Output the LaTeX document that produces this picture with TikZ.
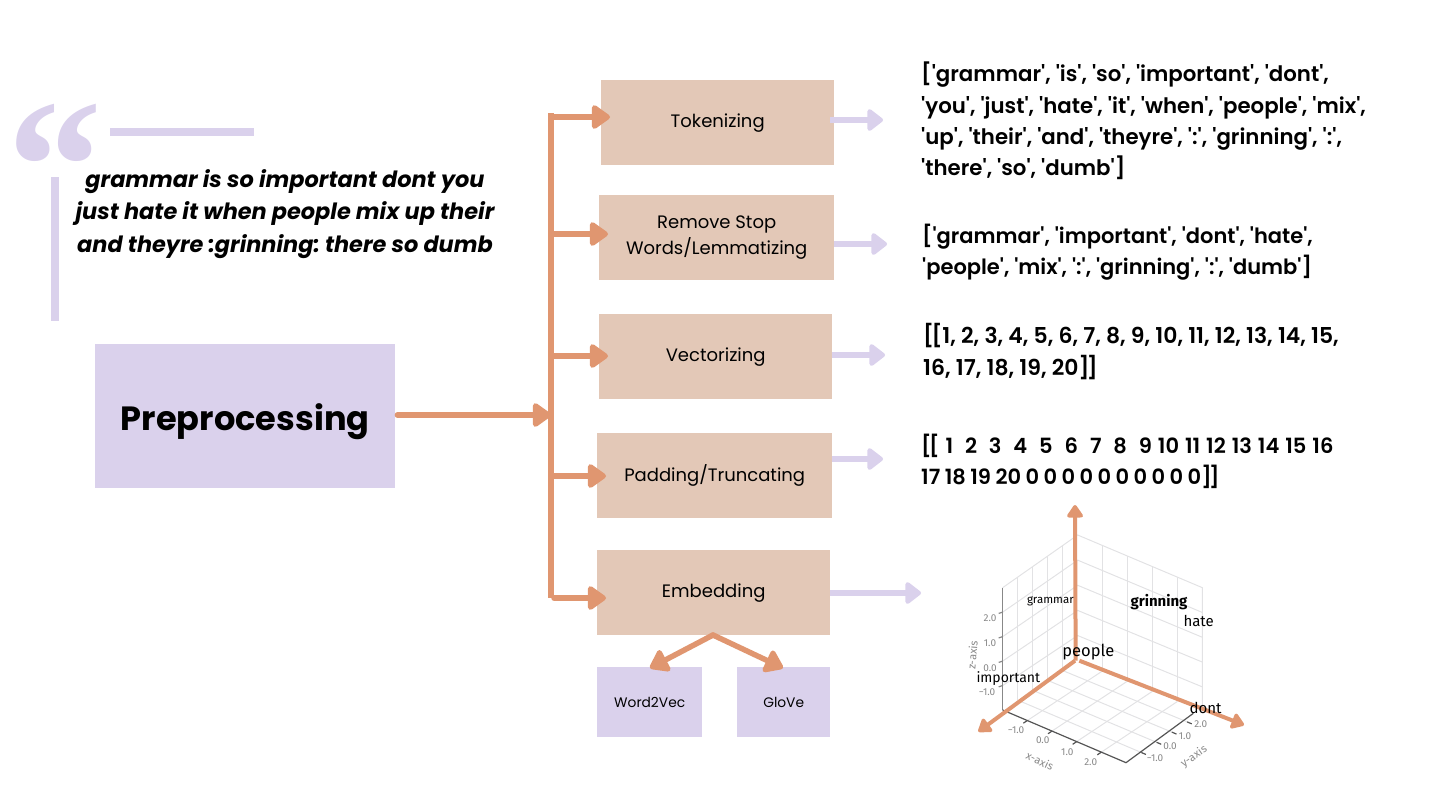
\documentclass[tikz,border=0pt]{standalone}
\usepackage{fontspec}
\usetikzlibrary{arrows.meta,calc}
\setmainfont{Poppins}
\newfontfamily\dm{Poppins}
\newfontfamily\dms{Poppins SemiBold}
\newfontfamily\plex{Fira Sans}
\newfontfamily\qmark{Liberation Serif}
\definecolor{lilac}{HTML}{DAD1EC}
\definecolor{peach}{HTML}{E3C8B7}
\definecolor{orng}{HTML}{E09670}
\definecolor{gridc}{HTML}{E2E2E4}
\definecolor{axisc}{HTML}{555555}
\definecolor{tickc}{HTML}{888888}
\tikzset{
  peachbox/.style={fill=peach,anchor=north west,inner sep=0pt,minimum height=85pt,align=center,font=\dm\fontsize{18}{26}\selectfont},
  lilacbox/.style={fill=lilac,anchor=north west,inner sep=0pt,align=center},
  bar/.style={fill=lilac},
  orngline/.style={draw=orng,line width=5.5pt,line cap=round},
  orngarrow/.style={orngline,-{Triangle[length=20pt,width=27pt,round]}},
  lilacarrow/.style={draw=lilac,line width=5.5pt,-{Triangle[length=17pt,width=25pt,round]}},
  outtext/.style={anchor=north west,inner sep=0pt,align=left,font=\frenchspacing\dms\fontsize{21}{31.3}\selectfont},
  plotarrow/.style={draw=orng,line width=4pt,-{Triangle[length=14pt,width=18pt,round]}},
  gridline/.style={draw=gridc,line width=1pt},
  axisline/.style={draw=axisc,line width=1.2pt},
  ticklabel/.style={text=tickc,font=\plex\fontsize{10}{10}\selectfont,inner sep=0pt},
  axislabel/.style={text=tickc,font=\plex\fontsize{11}{11}\selectfont,inner sep=0pt},
  wordlabel/.style={text=black,inner sep=0pt,font=\plex\fontsize{14}{14}\selectfont},
}
\begin{document}
\begin{tikzpicture}[x=1pt,y=-1pt]
\useasboundingbox (0,0) rectangle (1440,809);
% quote decoration
\node[text=lilac,inner sep=0pt,font=\qmark\bfseries\fontsize{190}{190}\selectfont] (quote) at (55,167) {“};
\fill[bar] (110,128) rectangle (254,136);
\fill[bar] (51,177) rectangle (59,321);
\node[inner sep=0pt,align=center,font=\frenchspacing\dm\bfseries\itshape\fontsize{22.4}{32.5}\selectfont] (saying) at (285,214)
  {grammar is so important dont you\\just hate it when people mix up their\\and theyre :grinning: there so dumb};
% main boxes
\node[lilacbox,minimum width=300pt,minimum height=144pt,font=\dm\bfseries\fontsize{33.6}{38}\selectfont,text depth=2pt] (prep) at (95,344) {\raisebox{-3pt}{Preprocessing}};
\node[peachbox,minimum width=233pt] (tok) at (601,80) {\raisebox{-2pt}{Tokenizing}};
\node[peachbox,minimum width=235pt] (stop) at (599,195) {\raisebox{-2pt}{Remove Stop}\\\raisebox{-2pt}{Words/Lemmatizing}};
\node[peachbox,minimum width=233pt] (vec) at (599,314) {\raisebox{-1pt}{Vectorizing}};
\node[peachbox,minimum width=235pt] (pad) at (597,433) {Padding/Truncating};
\node[peachbox,minimum width=233pt] (emb) at (597,550) {\raisebox{-1pt}{Embedding}};
\node[lilacbox,minimum width=105pt,minimum height=70pt,font=\dm\fontsize{13.8}{16}\selectfont] (w2v) at (597,667) {Word2Vec};
\node[lilacbox,minimum width=93pt,minimum height=70pt,font=\dm\fontsize{13.8}{16}\selectfont] (glove) at (737,667) {GloVe};
% output text
\node[outtext,font=\frenchspacing\dms\fontsize{21.3}{31.3}\selectfont] (o1) at (921,62) {['grammar', 'is', 'so', 'important', 'dont',\\'you', 'just', 'hate', 'it', 'when', 'people', 'mix',\\'up', 'their', 'and', 'theyre', ':', 'grinning', ':',\\'there', 'so', 'dumb']};
\node[outtext] (o2) at (922,224) {['grammar', 'important', 'dont', 'hate',\\'people', 'mix', ':', 'grinning', ':', 'dumb']};
\node[outtext,font=\frenchspacing\dms\fontsize{21.9}{31.6}\selectfont] (o3) at (923,323.5) {[\kern-2.5pt[1, 2, 3, 4, 5, 6, 7, 8, 9, 10, 11, 12, 13, 14, 15,\\16, 17, 18, 19, 20]\kern-2.5pt]};
\node[outtext] (o4) at (921,434) {\spaceskip=5.95pt [\kern-2.5pt[ 1~~2~~3~~4~~5~~6~~7~~8~~9 10 11 12 13 14 15 16\\\spaceskip=4.45pt 17 18 19 20 0 0 0 0 0 0 0 0 0 0]\kern-2.5pt]};
% spine
\coordinate (s0) at (551,113);
\coordinate (s1) at (551,117);
\coordinate (s2) at (551,234);
\coordinate (s3) at (551,356);
\coordinate (sp) at (551,415);
\coordinate (s4) at (551,476);
\coordinate (s5) at (551,598);
\draw[orngline,line cap=butt] (s0) -- (s5);
\draw[orngarrow] (prep.east |- sp) ++(2,0) -- (sp);
\foreach \s/\b in {s1/tok,s2/stop,s3/vec,s4/pad,s5/emb}
  \draw[orngarrow,shorten >=-9pt] (\s) ++(3,0) -- (\s -| \b.west);
% embedding children
\coordinate (e0) at (713,635);
\draw[orngarrow] (e0) -- (650,668);
\draw[orngarrow] (e0) -- (783,668);
% lilac arrows
\coordinate (a1) at (883,120);
\coordinate (a2) at (887,244);
\coordinate (a3) at (885,355);
\coordinate (a4) at (883,459);
\coordinate (a5) at (921,593);
\draw[lilacarrow] (tok.east |- a1) ++(-4,0) -- (a1);
\draw[lilacarrow] (stop.east |- a2) -- (a2);
\draw[lilacarrow] (vec.east |- a3) -- (a3);
\draw[lilacarrow] (pad.east |- a4) -- (a4);
\draw[lilacarrow] (emb.east |- a5) -- (a5);
% 3D plot
\begin{scope}[shift={(940pt,-490pt)},x=0.33333pt,y=-0.33333pt]
  \coordinate (O) at (413,512);
  \coordinate (A) at (188,660);
  \coordinate (B) at (558,818);
  \coordinate (C) at (787,665);
  \coordinate (T) at (413,135);
  \coordinate (L) at (188,293);
  \coordinate (R) at (787,293);
  % walls and floor grid
  \foreach \f in {.2,.4,.6,.8} {
    \draw[gridline] ($(A)!\f!(O)$) -- ($(L)!\f!(T)$);
    \draw[gridline] ($(O)!\f!(C)$) -- ($(T)!\f!(R)$);
    \draw[gridline] ($(A)!\f!(B)$) -- ($(O)!\f!(C)$);
    \draw[gridline] ($(A)!\f!(O)$) -- ($(B)!\f!(C)$);
    \draw[gridline] ($(L)!\f!(A)$) -- ($(T)!\f!(O)$) -- ($(R)!\f!(C)$);
  }
  \draw[gridline] (L) -- (T) -- (R) -- (C);
  % dark axes
  \draw[draw=tickc,line width=1.3pt] (L) -- (A);
  \draw[axisline] (A) -- (B) -- (760,670);
  \foreach \f in {.2,.4,.6,.8} {
    \draw[axisline] ($(A)!\f!(B)$) -- ++(-12,8);
    \draw[axisline] ($(B)!\f!(C)$) -- ++(14,6);
    \draw[axisline,draw=tickc] ($(L)!\f!(A)$) -- ++(-12,4);
  }
  \node[ticklabel] (tz1) at (150,385) {2.0};
  \node[ticklabel] (tz2) at (150,460) {1.0};
  \node[ticklabel] (tz3) at (150,533) {0.0};
  \node[ticklabel] (tz4) at (141,607) {−1.0};
  \node[ticklabel] (tx1) at (228,721) {−1.0};
  \node[ticklabel] (tx2) at (308,750) {0.0};
  \node[ticklabel] (tx3) at (382,785) {1.0};
  \node[ticklabel] (tx4) at (452,815) {2.0};
  \node[ticklabel] (ty1) at (645,805) {−1.0};
  \node[ticklabel] (ty2) at (690,768) {0.0};
  \node[ticklabel] (ty3) at (735,737) {1.0};
  \node[ticklabel] (ty4) at (782,703) {2.0};
  \node[axislabel,rotate=85] (zl) at (97,495) {z-axis};
  \node[axislabel,rotate=-25] (xl) at (300,813) {x-axis};
  \node[axislabel,rotate=35] (yl) at (762,800) {y-axis};
  % orange axes
  \draw[plotarrow] (407,512) -- (405,45);
  \draw[plotarrow] (405,512) -- (115,725);
  \draw[plotarrow] (418,512) -- (912,705);
  % words
  \node[wordlabel,font=\plex\fontsize{11.5}{12}\selectfont] (w1) at (331,333) {grammar};
  \node[wordlabel,font=\plex\bfseries\fontsize{15}{15}\selectfont] (w2) at (657,335) {grinning};
  \node[wordlabel,font=\plex\fontsize{15}{15}\selectfont] (w3) at (776,392) {hate};
  \node[wordlabel,font=\plex\fontsize{16.5}{17}\selectfont] (w4) at (445,485) {people};
  \node[wordlabel] (w5) at (205,565) {important};
  \node[wordlabel,font=\plex\fontsize{15}{15}\selectfont] (w6) at (797,653) {dont};
\end{scope}
\end{tikzpicture}
\end{document}
